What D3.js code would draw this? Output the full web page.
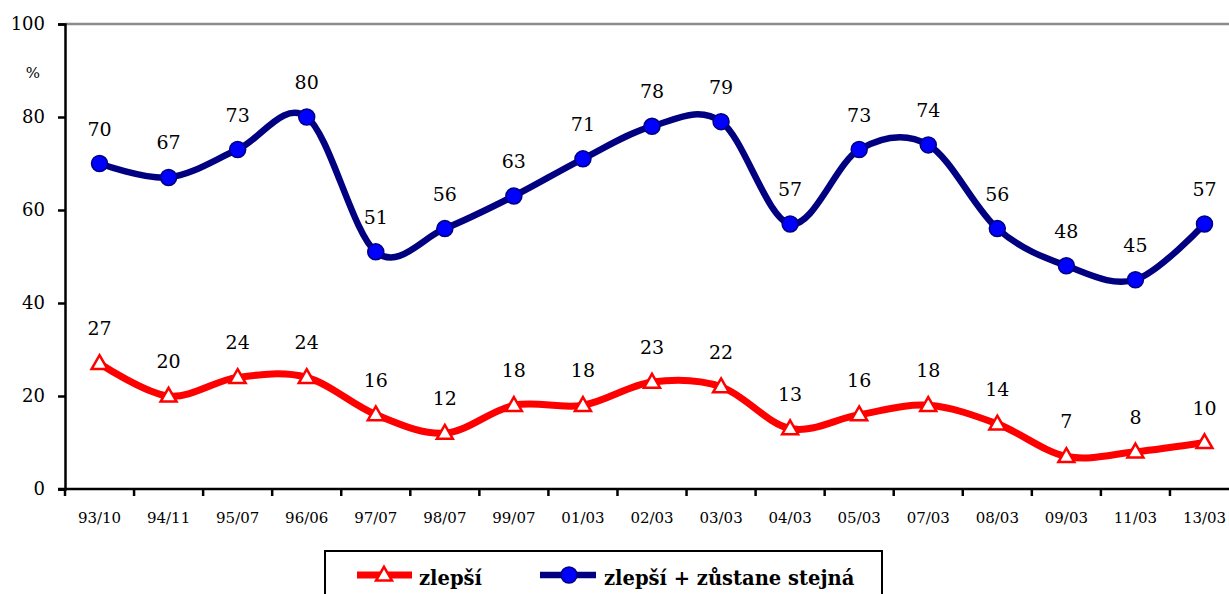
<!DOCTYPE html>
<html><head><meta charset="utf-8">
<script src="https://cdn.jsdelivr.net/npm/d3@7"></script>
<style>body{margin:0;background:#fff;overflow:hidden}svg{display:block}</style>
</head><body>
<script>
const categories = ["93/10","94/11","95/07","96/06","97/07","98/07","99/07","01/03","02/03","03/03","04/03","05/03","07/03","08/03","09/03","11/03","13/03"];
const zlepsi = [27,20,24,24,16,12,18,18,23,22,13,16,18,14,7,8,10];
const zlepsiStejna = [70,67,73,80,51,56,63,71,78,79,57,73,74,56,48,45,57];
const yTicks = [0,20,40,60,80,100];
const seriesNames = ["zlepší","zlepší + zůstane stejná"];

const W = 1229, H = 594;
const FONT = "DejaVu Serif";
const svg = d3.select("body").append("svg").attr("width", W).attr("height", H)
  .attr("font-family", FONT);

const x = d3.scaleBand().domain(categories).range([65, 65 + 17 * 69.06]);
const y = d3.scaleLinear().domain([0, 100]).range([489, 24]);
const cx = d => x(d) + x.bandwidth() / 2;

svg.append("line").attr("x1", 65).attr("x2", W).attr("y1", y(100)).attr("y2", y(100))
  .attr("stroke", "#8c8c8c").attr("stroke-width", 2.5);

const yAxis = svg.append("g").attr("transform", "translate(65,0)")
  .call(d3.axisLeft(y).tickValues(yTicks).tickSize(7).tickPadding(13));
yAxis.attr("font-family", FONT);
yAxis.select(".domain").attr("stroke", "#000").attr("stroke-width", 2.5);
yAxis.selectAll(".tick line").attr("stroke", "#000").attr("stroke-width", 2.5);
yAxis.selectAll("text").attr("font-size", 18).attr("fill", "#000");

svg.append("text").attr("x", 33).attr("y", 78).attr("text-anchor", "middle")
  .attr("font-size", 15).text("%");

const xAxis = svg.append("g").attr("transform", `translate(0,${y(0)})`)
  .call(d3.axisBottom(x).tickSize(0).tickPadding(23));
xAxis.attr("font-family", FONT);
xAxis.select(".domain").remove();
xAxis.selectAll("text").attr("font-size", 15).attr("fill", "#000");
svg.append("line").attr("x1", 58).attr("x2", W).attr("y1", y(0)).attr("y2", y(0))
  .attr("stroke", "#000").attr("stroke-width", 2.5);
const bounds = d3.range(categories.length + 1).map(i => 65 + i * x.step());
svg.selectAll(".xtick").data(bounds).join("line").attr("class", "xtick")
  .attr("x1", d => d).attr("x2", d => d).attr("y1", y(0)).attr("y2", y(0) + 7)
  .attr("stroke", "#000").attr("stroke-width", 2.5);

const line = d3.line().x((d, i) => cx(categories[i])).y(d => y(d)).curve(d3.curveCardinal.tension(0));

svg.append("path").attr("d", line(zlepsiStejna)).attr("fill", "none")
  .attr("stroke", "#000080").attr("stroke-width", 6.5);
svg.selectAll(".bdot").data(zlepsiStejna).join("circle").attr("class", "bdot")
  .attr("cx", (d, i) => cx(categories[i])).attr("cy", d => y(d)).attr("r", 8)
  .attr("fill", "#0000ff").attr("stroke", "#000080").attr("stroke-width", 1.5);

svg.append("path").attr("d", line(zlepsi)).attr("fill", "none")
  .attr("stroke", "#ff0000").attr("stroke-width", 7);
const tri = d3.symbol().type(d3.symbolTriangle).size(110);
svg.selectAll(".rtri").data(zlepsi).join("path").attr("class", "rtri")
  .attr("d", tri).attr("transform", (d, i) => `translate(${cx(categories[i])},${y(d) + 1})`)
  .attr("fill", "#fff").attr("stroke", "#ff0000").attr("stroke-width", 2.5);

[zlepsi, zlepsiStejna].forEach(arr => {
  svg.append("g").selectAll("text").data(arr).join("text")
    .attr("x", (d, i) => cx(categories[i])).attr("y", d => y(d) - 28)
    .attr("text-anchor", "middle").attr("font-size", 19)
    .attr("fill", "#000").text(d => d);
});

svg.append("rect").attr("x", 325).attr("y", 551).attr("width", 557).attr("height", 60)
  .attr("fill", "#fff").attr("stroke", "#000").attr("stroke-width", 2);
const ly = 575;
svg.append("line").attr("x1", 357).attr("x2", 412).attr("y1", ly).attr("y2", ly)
  .attr("stroke", "#ff0000").attr("stroke-width", 7);
svg.append("path").attr("d", tri).attr("transform", `translate(384,${ly + 1})`)
  .attr("fill", "#fff").attr("stroke", "#ff0000").attr("stroke-width", 2.5);
svg.append("text").attr("x", 419).attr("y", ly + 10)
  .attr("font-size", 19.5).attr("font-weight", "bold").text(seriesNames[0]);
svg.append("line").attr("x1", 540).attr("x2", 596).attr("y1", ly).attr("y2", ly)
  .attr("stroke", "#000080").attr("stroke-width", 6.5);
svg.append("circle").attr("cx", 569).attr("cy", ly).attr("r", 8)
  .attr("fill", "#0000ff").attr("stroke", "#000080").attr("stroke-width", 1.5);
svg.append("text").attr("x", 604).attr("y", ly + 10)
  .attr("font-size", 19.5).attr("font-weight", "bold").text(seriesNames[1]);
</script>
</body></html>
